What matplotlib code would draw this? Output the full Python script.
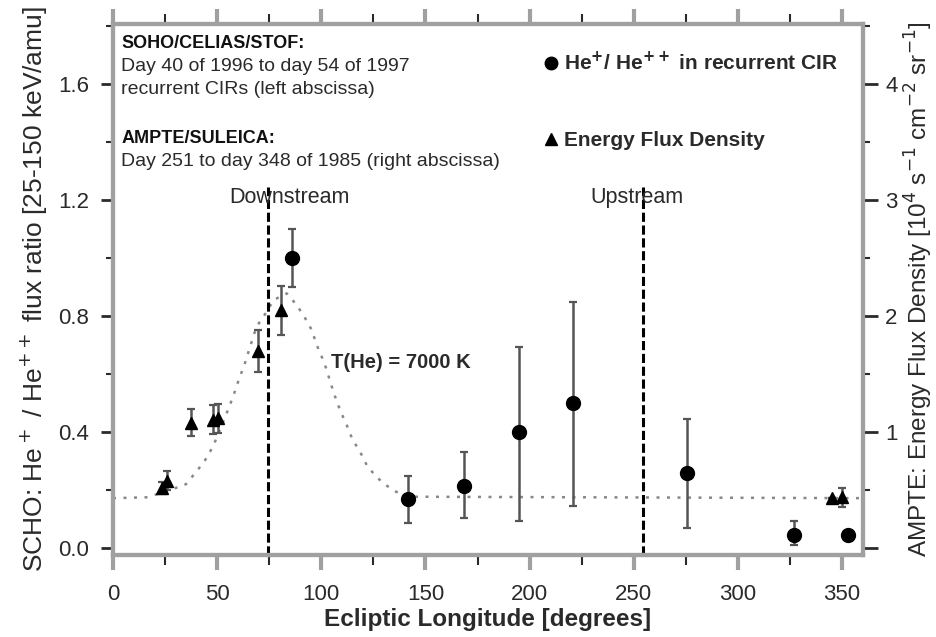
import numpy as np
import matplotlib.pyplot as plt
from matplotlib.lines import Line2D
from matplotlib.ticker import MultipleLocator, FuncFormatter

plt.rcParams['font.family'] = ['Liberation Sans', 'DejaVu Sans']

# He+/He++ ratio in recurrent CIRs (left axis)
cir_lon = [86, 141.5, 168.5, 195, 221, 275.5, 327, 353]
cir_ratio = [1.0, 0.17, 0.215, 0.40, 0.50, 0.26, 0.045, 0.045]
cir_low = [0.90, 0.085, 0.105, 0.095, 0.145, 0.07, 0.01, 0.045]
cir_high = [1.10, 0.25, 0.33, 0.695, 0.85, 0.445, 0.095, 0.045]

# AMPTE energy flux density (right axis)
tri_lon = [23.5, 26, 37.5, 48, 50.5, 69.5, 80.5, 345, 350]
tri_flux = [0.52, 0.58, 1.08, 1.10, 1.12, 1.70, 2.05, 0.43, 0.44]
tri_low = [0.47, 0.50, 0.97, 0.98, 0.99, 1.52, 1.84, 0.43, 0.35]
tri_high = [0.57, 0.66, 1.20, 1.23, 1.24, 1.88, 2.26, 0.43, 0.52]

# T(He) = 7000 K model curve (left axis units)
model_lon = [0, 16, 23.4, 35, 40.4, 44.2, 48, 55.8, 58.2, 60.6, 63, 67.8, 70,
             73.8, 77, 83.4, 88.2, 92.2, 95.4, 97.8, 100.2, 102.6, 104.5, 106.9,
             109.3, 112.2, 114.9, 118.6, 121.8, 126.3, 131, 135.9, 142.6, 360]
model_ratio = [0.172, 0.175, 0.19, 0.22, 0.267, 0.303, 0.35, 0.487, 0.534, 0.585,
               0.63, 0.74, 0.775, 0.815, 0.855, 0.878, 0.838, 0.793, 0.752, 0.70,
               0.66, 0.614, 0.568, 0.516, 0.47, 0.424, 0.375, 0.332, 0.286, 0.246,
               0.217, 0.194, 0.177, 0.172]

boundaries = [74.4, 254.4]
boundary_names = ['Downstream', 'Upstream']
boundary_label_x = [84.5, 251.5]

grey = '#a0a0a0'
dark = '#2a2a2a'
fig = plt.figure(figsize=(9.37, 6.37), dpi=100)
ax = fig.add_axes([0.1206, 0.1287, 0.8004, 0.8336])
ax2 = ax.twinx()

ax.set_xlim(0, 360)
ax.set_ylim(-0.024, 1.807)
ax2.set_ylim(-0.024 * 2.5, 1.807 * 2.5)

ax.plot(model_lon, model_ratio, linestyle=(0, (1.2, 3)), color='#888888', lw=1.8)

for xb, name, xl in zip(boundaries, boundary_names, boundary_label_x):
    ax.plot([xb, xb], [ax.get_ylim()[0], 1.245], color='black', lw=2.2,
            linestyle=(0, (3, 1.2)))
    ax.text(xl, 1.21, name, ha='center', va='center', fontsize=15.5, color=dark)

c_err = [np.array(cir_ratio) - np.array(cir_low), np.array(cir_high) - np.array(cir_ratio)]
ax.errorbar(cir_lon, cir_ratio, yerr=c_err, fmt='o', color='black', ms=10,
            ecolor='#555555', elinewidth=1.8, capsize=3, capthick=1.6, zorder=5)

t_err = [np.array(tri_flux) - np.array(tri_low), np.array(tri_high) - np.array(tri_flux)]
ax2.errorbar(tri_lon, tri_flux, yerr=t_err, fmt='^', color='black', ms=8.5,
             ecolor='#555555', elinewidth=1.8, capsize=3, capthick=1.6, zorder=5)

ax.text(104.5, 0.64, 'T(He) = 7000 K', fontsize=14.5, fontweight='bold',
        color=dark, va='center')

info = ax.transAxes
ax.text(0.011, 0.963, 'SOHO/CELIAS/STOF:', transform=info, fontsize=13,
        fontweight='bold', va='center', color='#111111')
ax.text(0.011, 0.920, 'Day 40 of 1996 to day 54 of 1997', transform=info,
        fontsize=14, va='center', color=dark)
ax.text(0.011, 0.876, 'recurrent CIRs (left abscissa)', transform=info,
        fontsize=14, va='center', color=dark)
ax.text(0.011, 0.785, 'AMPTE/SULEICA:', transform=info, fontsize=13,
        fontweight='bold', va='center', color='#111111')
ax.text(0.011, 0.742, 'Day 251 to day 348 of 1985 (right abscissa)', transform=info,
        fontsize=14, va='center', color=dark)

handles = [Line2D([], [], marker='o', color='black', ls='none', ms=9),
           Line2D([], [], marker='^', color='black', ls='none', ms=8.5)]
labels = ['He$^{\\mathbf{+}}$/ He$^{\\mathbf{++}}$ in recurrent CIR', 'Energy Flux Density']
leg = ax.legend(handles, labels, loc='upper left', bbox_to_anchor=(0.545, 0.985),
                frameon=False, prop={'size': 15, 'weight': 'bold'},
                labelspacing=2.75, handletextpad=0.15, handlelength=1.0)
for t in leg.get_texts():
    t.set_color(dark)

for a in (ax, ax2):
    for s in a.spines.values():
        s.set_color(grey)
        s.set_linewidth(3)

ax.xaxis.set_major_locator(MultipleLocator(50))
ax.xaxis.set_minor_locator(MultipleLocator(25))
ax.yaxis.set_major_locator(MultipleLocator(0.4))
ax.yaxis.set_minor_locator(MultipleLocator(0.2))
ax.yaxis.set_major_formatter(FuncFormatter(lambda v, p: f'{v:.1f}'))
ax2.yaxis.set_major_locator(MultipleLocator(1))
ax2.yaxis.set_minor_locator(MultipleLocator(0.5))
ax2.yaxis.set_major_formatter(FuncFormatter(lambda v, p: '' if abs(v) < 1e-6 else f'{v:.0f}'))

ax.tick_params(axis='y', which='major', direction='out', length=9, width=2,
               labelsize=16, colors=dark, pad=8)
ax.tick_params(axis='y', which='minor', direction='out', length=5, width=1.5,
               colors=dark)
ax.tick_params(axis='x', which='major', direction='out', length=11, width=3,
               labelsize=16, colors=grey, top=True, pad=10)
ax.tick_params(axis='x', which='minor', direction='out', length=7, width=1.5,
               colors=dark, top=True)
ax2.tick_params(axis='y', which='major', direction='out', length=11, width=2,
                labelsize=16, colors=dark, pad=5)
ax2.tick_params(axis='y', which='minor', direction='out', length=5, width=1.5,
                colors=dark)
for lab in ax.get_xticklabels():
    lab.set_color(dark)

ax.set_xlabel('Ecliptic Longitude [degrees]', fontsize=17.5, fontweight='bold',
              color=dark, labelpad=2)
ax.set_ylabel('SCHO: He$^+$ / He$^{++}$ flux ratio [25-150 keV/amu]', fontsize=19,
              color=dark, labelpad=6)
ax2.set_ylabel('AMPTE: Energy Flux Density [10$^4$ s$^{-1}$ cm$^{-2}$ sr$^{-1}$]',
               fontsize=17.5, color=dark, labelpad=4)

fig.savefig('out.png', dpi=100)
